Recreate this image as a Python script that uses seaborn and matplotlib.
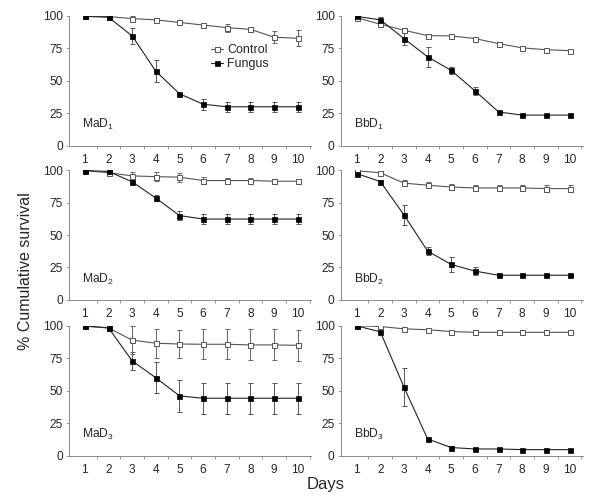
import matplotlib
matplotlib.use("Agg")
import matplotlib.pyplot as plt
import seaborn as sns
import pandas as pd

sns.set_style("white")
plt.rcParams["font.family"] = ["Liberation Sans", "DejaVu Sans"]
plt.rcParams["mathtext.default"] = "regular"

days = [1, 2, 3, 4, 5, 6, 7, 8, 9, 10]
panel_names = ["MaD$_1$", "BbD$_1$", "MaD$_2$", "BbD$_2$", "MaD$_3$", "BbD$_3$"]

# survival means (%) and error bars
mad1_ctrl = [100, 99.5, 98, 97, 95, 93, 91, 89.7, 83.6, 82.8]
mad1_ctrl_err = [0, 0.5, 2, 1.5, 1, 1, 3, 2, 4.6, 6]
mad1_fung = [99.7, 99, 84.6, 57.4, 40, 32, 30, 30, 30, 30]
mad1_fung_err = [0.5, 1, 6.4, 8.6, 1, 4.3, 4, 4, 4, 4]

bbd1_ctrl = [98.7, 93.6, 89, 84.9, 84.6, 82.6, 78.7, 75.4, 74, 73.3]
bbd1_ctrl_err = [0.5, 2, 2, 1, 1.5, 0.8, 1, 1, 0.8, 0.8]
bbd1_fung = [99.7, 97, 82.6, 68.5, 58, 42.3, 26, 23.6, 23.6, 23.6]
bbd1_fung_err = [0.5, 2, 5, 7.5, 2.5, 3, 1, 0.5, 0.5, 0.5]

mad2_ctrl = [99.7, 98, 95.6, 95, 94.6, 92, 92, 92, 91.5, 91.5]
mad2_ctrl_err = [0.5, 2, 2.6, 3.5, 3.5, 2.5, 2, 2, 2, 2]
mad2_fung = [99.7, 99, 91, 78.5, 65, 62.3, 62.3, 62.3, 62.3, 62.3]
mad2_fung_err = [0.5, 1.5, 1.5, 2.5, 3.5, 4, 4, 4, 4, 4]

bbd2_ctrl = [99.5, 98, 90, 88.4, 87, 86.3, 86.3, 86.3, 85.8, 85.8]
bbd2_ctrl_err = [0.5, 0.8, 2.5, 2.5, 2, 2.5, 2.5, 2.5, 3, 3]
bbd2_fung = [97.4, 91.2, 65.5, 37.6, 27.3, 22.2, 19, 19, 19, 19]
bbd2_fung_err = [1, 1.5, 8, 3, 6, 3, 0.8, 0.5, 0.5, 0.5]

mad3_ctrl = [99.7, 98.4, 89, 86.6, 86, 85.8, 85.8, 85.3, 85.3, 85]
mad3_ctrl_err = [0.5, 0.8, 11, 11, 11, 11.7, 11.7, 12, 12, 12]
mad3_fung = [100, 98.4, 73, 60, 46, 44.2, 44.2, 44.2, 44.2, 44.2]
mad3_fung_err = [0.5, 0.8, 7, 12, 12.5, 12, 12, 12, 12, 12]

bbd3_ctrl = [100, 99.5, 97.7, 97, 95.6, 95, 95, 95, 95, 95]
bbd3_ctrl_err = [0.3, 0.5, 0.5, 0.5, 0.5, 0.5, 0.5, 0.5, 0.5, 0.5]
bbd3_fung = [100, 95.4, 52.8, 12.8, 6.2, 5.1, 5.1, 4.6, 4.6, 4.6]
bbd3_fung_err = [0.3, 1, 14.4, 1, 1, 0.8, 0.8, 0.5, 0.5, 0.5]

panels = [
    (mad1_ctrl, mad1_ctrl_err, mad1_fung, mad1_fung_err),
    (bbd1_ctrl, bbd1_ctrl_err, bbd1_fung, bbd1_fung_err),
    (mad2_ctrl, mad2_ctrl_err, mad2_fung, mad2_fung_err),
    (bbd2_ctrl, bbd2_ctrl_err, bbd2_fung, bbd2_fung_err),
    (mad3_ctrl, mad3_ctrl_err, mad3_fung, mad3_fung_err),
    (bbd3_ctrl, bbd3_ctrl_err, bbd3_fung, bbd3_fung_err),
]

fig = plt.figure(figsize=(6, 4.99), dpi=100)
col_x = [0.115, 0.568]
row_y = [0.708, 0.399, 0.087]
w, h = 0.403, 0.26
gray = "#8a8a8a"

for i, (c, ce, f, fe) in enumerate(panels):
    ax = fig.add_axes([col_x[i % 2], row_y[i // 2], w, h])
    df = pd.DataFrame({"day": days * 2,
                       "surv": c + f,
                       "grp": ["Control"] * 10 + ["Fungus"] * 10})
    ax.errorbar(days, c, yerr=ce, fmt="none", ecolor="#666666",
                elinewidth=0.7, capsize=1.8, capthick=0.7, zorder=1)
    ax.errorbar(days, f, yerr=fe, fmt="none", ecolor="#555555",
                elinewidth=0.7, capsize=1.8, capthick=0.7, zorder=1)
    sns.lineplot(data=df[df.grp == "Control"], x="day", y="surv", ax=ax,
                 color="#555555", lw=0.8, marker="s", ms=3.6,
                 mfc="white", mec="#555555", mew=0.7, label="Control", zorder=3)
    sns.lineplot(data=df[df.grp == "Fungus"], x="day", y="surv", ax=ax,
                 color="#222222", lw=0.8, marker="s", ms=3.6,
                 mfc="black", mec="black", mew=0.5, label="Fungus", zorder=3)

    ax.set_xlim(0.33, 10.55)
    ax.set_ylim(0, 100)
    ax.set_yticks([0, 25, 50, 75, 100])
    ax.set_xticks(days)
    ax.set_xticks([d + 0.5 for d in days], minor=True)
    ax.tick_params(axis="x", which="major", length=0, pad=6, labelsize=8.6)
    ax.tick_params(axis="x", which="minor", length=2.5, width=0.6,
                   color=gray, direction="out", bottom=True)
    ax.tick_params(axis="y", length=2.5, width=0.6, color=gray,
                   direction="out", left=True, pad=2, labelsize=8.6)
    for s in ["top", "right"]:
        ax.spines[s].set_visible(False)
    for s in ["left", "bottom"]:
        ax.spines[s].set_color(gray)
        ax.spines[s].set_linewidth(0.7)
    ax.set_xlabel("")
    ax.set_ylabel("")
    ax.text(0.055, 0.16, panel_names[i], transform=ax.transAxes,
            fontsize=8.7, va="center", ha="left")
    if i == 0:
        ax.legend(loc="upper left", bbox_to_anchor=(0.56, 0.83), frameon=False,
                  fontsize=9, handlelength=1.0, handletextpad=0.3,
                  borderpad=0, labelspacing=0.15)
    else:
        ax.get_legend().remove()

fig.text(0.042, 0.457, "% Cumulative survival", rotation=90,
         ha="center", va="center", fontsize=11.5)
fig.text(0.542, 0.030, "Days", ha="center", va="center", fontsize=12)

fig.savefig("out.png", dpi=100)
